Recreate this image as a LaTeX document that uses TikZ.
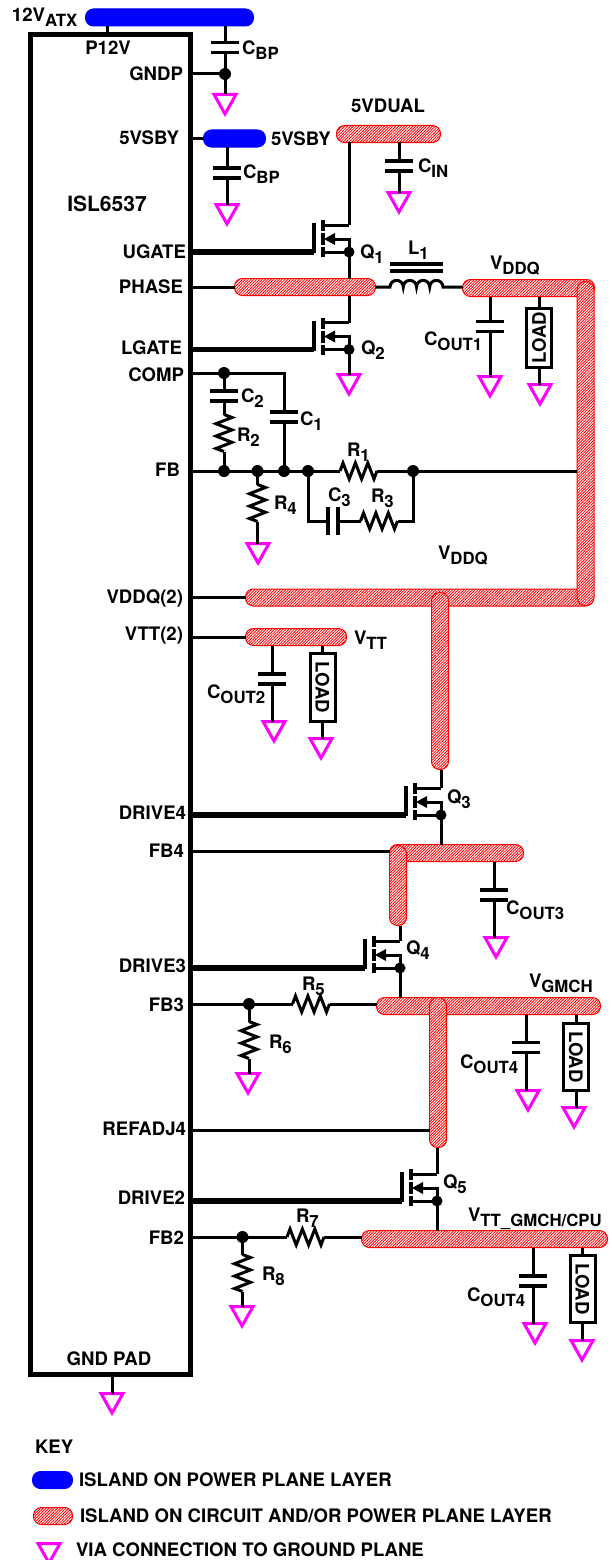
\documentclass[tikz,border=0pt]{standalone}
\usepackage{fontspec}
\setmainfont{TeX Gyre Heros}
\usepackage{tikz}
\usetikzlibrary{patterns.meta}
\definecolor{viapink}{RGB}{255,0,255}
\newcommand{\subtxt}[2]{#1\raisebox{-5pt}{\fontsize{16.8}{17}\selectfont #2}}
\tikzset{
	wire/.style={line width=3pt,line join=miter},
	gate/.style={line width=5.3pt},
	plate/.style={line width=3.2pt},
	chip/.style={draw,line width=5pt,minimum width=160.5pt,minimum height=1339.5pt},
	pwr/.style={draw=blue,fill=blue,line width=1pt,rounded corners=8pt,minimum height=17pt},
	island/.style={draw=red,line width=1pt,rounded corners=8pt,minimum height=17pt,minimum width=17pt,
		preaction={fill=white},pattern={Lines[angle=45,distance=2pt,line width=0.85pt]},pattern color=red},
	loadbox/.style={draw,line width=3pt,minimum width=25pt},
	lab/.style={anchor=base west},
	pin/.style={anchor=base east},
	capbar/.pic={
		\draw [plate] (-14,5) -- (14,5);
		\draw [plate] (-14,-5) -- (14,-5);
		\coordinate (-a) at (0,5);
		\coordinate (-b) at (0,-5);
	},
	resbar/.pic={
		\draw [wire] (-18.5,0) -- (-15.5,8) -- (-9.3,-8) -- (-3.1,8) -- (3.1,-8) -- (9.3,8) -- (15.5,-8) -- (18.5,0);
		\coordinate (-a) at (-18.5,0);
		\coordinate (-b) at (18.5,0);
	},
	via/.pic={
		\draw [viapink,line width=3pt,line join=miter] (-11,-1.5) -- (11,-1.5) -- (0,-21) -- cycle;
		\coordinate (-top) at (0,-1.5);
	},
	fet/.pic={
		\draw [plate] (-9,16) -- (-9,-14);
		\draw [plate] (0,19) -- (0,8);
		\draw [plate] (0,6) -- (0,-6);
		\draw [plate] (0,-8) -- (0,-18);
		\draw [wire] (0,14) -- (26,14);
		\draw [wire] (0,-13) -- (26,-13);
		\draw [wire] (11,0) -- (26,0) -- (26,-13);
		\fill [black] (1,0) -- (12,6) -- (12,-6) -- cycle;
		\fill [black] (26,-13) circle (5.5);
		\coordinate (-g) at (-9,-13);
		\coordinate (-d) at (26,14);
		\coordinate (-s) at (26,-13);
	},
}
\begin{document}
\begin{tikzpicture}[x=1pt,y=1pt,font=\bfseries\fontsize{18.6}{20}\selectfont]
	\tikzstyle{every node}+=[inner sep=0pt,outer sep=0pt]
	\useasboundingbox (0,0) rectangle (611,-1560);
	\node [chip] (isl) at (110.25,-704.75) {};
	\node [pwr,minimum width=168pt] (atx) at (169.5,-17.5) {};
	\node [pwr,minimum width=62pt] (vsby) at (234.5,-138.5) {};
	\node [island,minimum width=104pt] (vdual) at (388.5,-134) {};
	\node [island,minimum width=141pt] (phase) at (305,-287) {};
	\node [island,minimum width=132pt] (vddqa) at (528.5,-288) {};
	\node [island,minimum width=348pt] (vddqc) at (419.5,-597.5) {};
	\node [island,minimum height=324pt] (vddqb) at (585.5,-443.5) {};
	\node [island,minimum height=177pt] (vddqd) at (440,-681) {};
	\node [island,minimum width=101pt] (vtt) at (296,-637) {};
	\node [island,minimum width=134pt] (fbtop) at (456.5,-853) {};
	\node [island,minimum height=80pt] (fbleg) at (398,-885.5) {};
	\node [island,minimum width=224pt] (vgmch) at (488.5,-1006) {};
	\node [island,minimum height=150pt] (vgleg) at (438,-1072.5) {};
	\node [island,minimum width=246pt] (vttg) at (484.5,-1239) {};

	\coordinate (p12v) at (107,-30);
	\draw [wire] (p12v |- atx.south) -- (p12v |- isl.north);
	\coordinate (gndp) at (225,-74);
	\pic (cbpa) at (225,-47.5) {capbar};
	\pic (vbpa) at (225,-93) {via};
	\draw [wire] (gndp -| isl.east) -- (gndp);
	\draw [wire] (cbpa-a |- atx.south) -- (cbpa-a);
	\draw [wire] (cbpa-b) -- (cbpa-b |- vbpa-top);
	\fill [black] (gndp) circle (6);
	\pic (cbpb) at (227,-173) {capbar};
	\pic (vbpb) at (227,-203) {via};
	\draw [wire] (vsby.west -| isl.east) -- (vsby.west);
	\draw [wire] (cbpb-a |- vsby.south) -- (cbpb-a);
	\draw [wire] (cbpb-b) -- (cbpb-b |- vbpb-top);
	\pic (cin) at (399,-166) {capbar};
	\pic (vcin) at (399,-191) {via};
	\draw [wire] (cin-a |- vdual.south) -- (cin-a);
	\draw [wire] (cin-b) -- (cin-b |- vcin-top);

	\pic (qa) at (323,-239) {fet};
	\draw [gate] (qa-g -| isl.east) -- (qa-g);
	\draw [wire] (qa-d |- vdual.south) -- (qa-d);
	\draw [wire] (qa-s) -- (qa-s |- phase.north);
	\pic (qb) at (323,-336.5) {fet};
	\pic (vqb) at (349,-373) {via};
	\draw [gate] (qb-g -| isl.east) -- (qb-g);
	\draw [wire] (qb-d |- phase.south) -- (qb-d);
	\draw [wire] (qb-s) -- (qb-s |- vqb-top);
	\draw [wire] (phase.west -| isl.east) -- (phase.west);

	\coordinate (lla) at (390,-287);
	\coordinate (llb) at (443,-287);
	\coordinate (lca) at (390,-264);
	\coordinate (lcb) at (443,-264);
	\coordinate (lcc) at (390,-271);
	\coordinate (lcd) at (443,-271);
	\draw [wire] (phase.east) -- (lla) arc (180:0:6.625) arc (180:0:6.625) arc (180:0:6.625) arc (180:0:6.625) -- (llb -| vddqa.west);
	\draw [plate] (lca) -- (lcb);
	\draw [plate] (lcc) -- (lcd);
	\pic (couta) at (490,-326.5) {capbar};
	\pic (vcouta) at (490,-375) {via};
	\draw [wire] (couta-a |- vddqa.south) -- (couta-a);
	\draw [wire] (couta-b) -- (couta-b |- vcouta-top);
	\node [loadbox,minimum height=59pt] (lda) at (539,-337.5) {\rotatebox{90}{LOAD}};
	\pic (vlda) at (540,-383) {via};
	\draw [wire] (lda.north |- vddqa.south) -- (lda.north);
	\draw [wire] (lda.south) -- (lda.south |- vlda-top);

	\coordinate (cmp) at (224,-373);
	\coordinate (cmpr) at (284,-373);
	\coordinate (fbn) at (224,-471);
	\coordinate (fbm) at (257.5,-471);
	\coordinate (fbc) at (284,-471);
	\coordinate (fbd) at (308,-471);
	\coordinate (fbe) at (413,-471);
	\pic (cb) at (224,-396) {capbar};
	\pic (ca) at (284,-417) {capbar};
	\pic [rotate=-90] (rb) at (224,-433) {resbar};
	\pic [rotate=-90] (rd) at (257.5,-503) {resbar};
	\pic (vrd) at (258,-542) {via};
	\pic (ra) at (358.5,-471) {resbar};
	\pic [rotate=-90] (cc) at (333,-521) {capbar};
	\pic (rc) at (379,-521) {resbar};
	\draw [wire] (cmp -| isl.east) -- (cmpr) -- (ca-a);
	\draw [wire] (ca-b) -- (fbc);
	\draw [wire] (cmp) -- (cb-a);
	\draw [wire] (cb-b) -- (rb-a);
	\draw [wire] (rb-b) -- (fbn);
	\draw [wire] (fbn -| isl.east) -- (ra-a);
	\draw [wire] (ra-b) -- (fbe -| vddqb.west);
	\draw [wire] (fbm) -- (rd-a);
	\draw [wire] (rd-b) -- (rd-b |- vrd-top);
	\draw [wire] (fbd) -- (fbd |- cc-b) -- (cc-b);
	\draw [wire] (cc-a) -- (rc-a);
	\draw [wire] (rc-b) -- (rc-b -| fbe) -- (fbe);
	\fill [black] (cmp) circle (6);
	\fill [black] (fbn) circle (6);
	\fill [black] (fbm) circle (6);
	\fill [black] (fbc) circle (6);
	\fill [black] (fbd) circle (6);
	\fill [black] (fbe) circle (6);

	\draw [wire] (vddqc.west -| isl.east) -- (vddqc.west);
	\draw [wire] (vtt.west -| isl.east) -- (vtt.west);
	\pic (coutb) at (272,-679) {capbar};
	\pic (vcoutb) at (274,-720) {via};
	\draw [wire] (coutb-a |- vtt.south) -- (coutb-a);
	\draw [wire] (coutb-b) -- (coutb-b |- vcoutb-top);
	\node [loadbox,minimum height=68pt] (ldb) at (322.5,-687.5) {\rotatebox{-90}{LOAD}};
	\pic (vldb) at (321,-737) {via};
	\draw [wire] (ldb.north |- vtt.south) -- (ldb.north);
	\draw [wire] (ldb.south) -- (ldb.south |- vldb-top);

	\pic (qc) at (415,-802) {fet};
	\draw [gate] (qc-g -| isl.east) -- (qc-g);
	\draw [wire] (qc-d |- vddqd.south) -- (qc-d);
	\draw [wire] (qc-s) -- (qc-s |- fbtop.north);
	\coordinate (fbf) at (300,-851);
	\draw [wire] (fbf -| isl.east) -- (fbf -| fbleg.west);
	\pic (coutc) at (494,-895) {capbar};
	\pic (vcoutc) at (496,-936) {via};
	\draw [wire] (coutc-a |- fbtop.south) -- (coutc-a);
	\draw [wire] (coutc-b) -- (coutc-b |- vcoutc-top);

	\pic (qd) at (374,-955) {fet};
	\draw [gate] (qd-g -| isl.east) -- (qd-g);
	\draw [wire] (qd-d |- fbleg.south) -- (qd-d);
	\draw [wire] (qd-s) -- (qd-s |- vgmch.north);
	\coordinate (fbg) at (249,-1004);
	\pic (re) at (311,-1004) {resbar};
	\pic [rotate=-90] (rf) at (249,-1040) {resbar};
	\pic (vrf) at (248,-1072) {via};
	\draw [wire] (fbg -| isl.east) -- (re-a);
	\draw [wire] (re-b) -- (re-b -| vgmch.west);
	\draw [wire] (fbg) -- (rf-a);
	\draw [wire] (rf-b) -- (rf-b |- vrf-top);
	\fill [black] (fbg) circle (6);
	\pic (coutd) at (526,-1047.5) {capbar};
	\pic (vcoutd) at (528,-1089) {via};
	\draw [wire] (coutd-a |- vgmch.south) -- (coutd-a);
	\draw [wire] (coutd-b) -- (coutd-b |- vcoutd-top);
	\node [loadbox,minimum height=67pt] (ldc) at (576,-1057) {\rotatebox{-90}{LOAD}};
	\pic (vldc) at (574,-1106) {via};
	\draw [wire] (ldc.north |- vgmch.south) -- (ldc.north);
	\draw [wire] (ldc.south) -- (ldc.south |- vldc-top);
	\coordinate (refa) at (300,-1130);
	\draw [wire] (refa -| isl.east) -- (refa -| vgleg.west);

	\pic (qe) at (411,-1188) {fet};
	\draw [gate] (qe-g -| isl.east) -- (qe-g);
	\draw [wire] (qe-d |- vgleg.south) -- (qe-d);
	\draw [wire] (qe-s) -- (qe-s |- vttg.north);
	\coordinate (fbh) at (242.5,-1237);
	\pic (rg) at (305.5,-1237) {resbar};
	\pic [rotate=-90] (rh) at (242.5,-1273) {resbar};
	\pic (vrh) at (242,-1305) {via};
	\draw [wire] (fbh -| isl.east) -- (rg-a);
	\draw [wire] (rg-b) -- (rg-b -| vttg.west);
	\draw [wire] (fbh) -- (rh-a);
	\draw [wire] (rh-b) -- (rh-b |- vrh-top);
	\fill [black] (fbh) circle (6);
	\pic (coute) at (533,-1281) {capbar};
	\pic (vcoute) at (535,-1322) {via};
	\draw [wire] (coute-a |- vttg.south) -- (coute-a);
	\draw [wire] (coute-b) -- (coute-b |- vcoute-top);
	\node [loadbox,minimum height=67pt] (ldd) at (582.5,-1289) {\rotatebox{-90}{LOAD}};
	\pic (vldd) at (582,-1339) {via};
	\draw [wire] (ldd.north |- vttg.south) -- (ldd.north);
	\draw [wire] (ldd.south) -- (ldd.south |- vldd-top);
	\pic (vpad) at (112,-1392) {via};
	\draw [wire] (vpad-top |- isl.south) -- (vpad-top);

	\node [lab] (latx) at (12,-21.5) {\subtxt{12V}{ATX}};
	\node [anchor=base] (lp12v) at (108,-54.5) {P12V};
	\node [pin] (lgndp) at (183,-80.5) {GNDP};
	\node [pin] (lsbya) at (179,-144.5) {5VSBY};
	\node [lab] (lsbyb) at (271,-145.5) {5VSBY};
	\node [anchor=base] (ldual) at (388,-112.5) {5VDUAL};
	\node [anchor=base,font=\bfseries\fontsize{21}{22}\selectfont] (lisl) at (107,-211) {ISL6537};
	\node [pin] (lug) at (186,-258.5) {UGATE};
	\node [pin] (lph) at (183,-293.5) {PHASE};
	\node [pin] (llg) at (182,-354.5) {LGATE};
	\node [pin] (lcmp) at (184,-381.5) {COMP};
	\node [pin] (lfb) at (180,-476.5) {FB};
	\node [pin] (lvd) at (183,-603.5) {VDDQ(2)};
	\node [pin] (lvt) at (183,-640.5) {VTT(2)};
	\node [pin] (ldra) at (186,-819.5) {DRIVE4};
	\node [pin] (lfba) at (184,-857.5) {FB4};
	\node [pin] (ldrb) at (186,-972.5) {DRIVE3};
	\node [pin] (lfbb) at (184,-1011.5) {FB3};
	\node [pin] (lref) at (186,-1135.5) {REFADJ4};
	\node [pin] (ldrc) at (185,-1204.5) {DRIVE2};
	\node [pin] (lfbc) at (184,-1244.5) {FB2};
	\node [anchor=base] (lpad) at (109,-1365.5) {GND PAD};
	\node [lab] (lcbpa) at (242,-54.5) {\subtxt{C}{BP}};
	\node [lab] (lcbpb) at (243,-178.5) {\subtxt{C}{BP}};
	\node [lab] (lcin) at (418,-172.5) {\subtxt{C}{IN}};
	\node [lab] (lqa) at (360,-258.5) {\subtxt{Q}{1}};
	\node [lab] (lqb) at (361,-354.5) {\subtxt{Q}{2}};
	\node [lab] (lla) at (408,-254.5) {\subtxt{L}{1}};
	\node [lab] (lvda) at (490,-269.5) {\subtxt{V}{DDQ}};
	\node [lab] (lcouta) at (424,-345.5) {\subtxt{C}{OUT1}};
	\node [lab] (lcb) at (241,-402.5) {\subtxt{C}{2}};
	\node [lab] (lca) at (300,-425.5) {\subtxt{C}{1}};
	\node [lab] (lrb) at (237,-441.5) {\subtxt{R}{2}};
	\node [lab] (lra) at (347,-456.5) {\subtxt{R}{1}};
	\node [lab] (lrd) at (274,-509.5) {\subtxt{R}{4}};
	\node [lab] (lcc) at (328,-501.5) {\subtxt{C}{3}};
	\node [lab] (lrc) at (371,-502.5) {\subtxt{R}{3}};
	\node [lab] (lvdb) at (438,-559.5) {\subtxt{V}{DDQ}};
	\node [lab] (lvtt) at (354,-644.5) {\subtxt{V}{TT}};
	\node [lab] (lcoutb) at (207,-698.5) {\subtxt{C}{OUT2}};
	\node [lab] (lqc) at (447,-803.5) {\subtxt{Q}{3}};
	\node [lab] (lqd) at (406,-954.5) {\subtxt{Q}{4}};
	\node [lab] (lcoutc) at (506,-914.5) {\subtxt{C}{OUT3}};
	\node [lab] (lvg) at (529,-987.5) {\subtxt{V}{GMCH}};
	\node [lab] (lre) at (302,-990.5) {\subtxt{R}{5}};
	\node [lab] (lrf) at (269,-1048.5) {\subtxt{R}{6}};
	\node [lab] (lcoutd) at (460,-1068.5) {\subtxt{C}{OUT4}};
	\node [lab] (lqe) at (443,-1188.5) {\subtxt{Q}{5}};
	\node [lab] (lvtg) at (468,-1221.5) {\subtxt{V}{TT\_GMCH/CPU}};
	\node [lab] (lrg) at (296,-1222.5) {\subtxt{R}{7}};
	\node [lab] (lrh) at (262,-1280.5) {\subtxt{R}{8}};
	\node [lab] (lcoute) at (467,-1301.5) {\subtxt{C}{OUT4}};

	\node [lab] (lkey) at (35,-1453.5) {KEY};
	\node [pwr,minimum width=40pt] (kpwr) at (52.5,-1480) {};
	\node [lab] (lkpwr) at (79,-1486.5) {ISLAND ON POWER PLANE LAYER};
	\node [island,minimum width=39pt] (kisl) at (53,-1516) {};
	\node [lab] (lkisl) at (80,-1522.5) {ISLAND ON CIRCUIT AND/OR POWER PLANE LAYER};
	\pic (kvia) at (49,-1542) {via};
	\node [lab] (lkvia) at (76,-1556.5) {VIA CONNECTION TO GROUND PLANE};
\end{tikzpicture}
\end{document}
